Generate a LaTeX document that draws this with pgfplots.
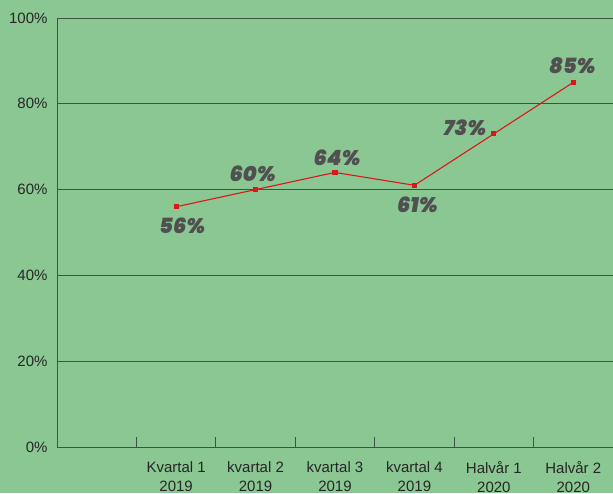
\documentclass[border=0pt]{standalone}
\usepackage{fontspec}
\setmainfont{Liberation Sans}
\newfontfamily\lblfont{Poppins}[BoldItalicFont={Poppins Black Italic}]
\usepackage{pgfplots}
\pgfplotsset{compat=1.18}
\usepackage{pgfplotstable}
\definecolor{bgc}{HTML}{8BC793}
\definecolor{gridc}{HTML}{3F5443}
\definecolor{linec}{HTML}{D7191C}
\definecolor{lblc}{HTML}{505050}

\pgfplotstableread{
x y dx dy
1 56 6 -19
2 60 -3 16
3 64 2 15
4 61 3 -19
5 73 -29 6
6 85 -1 17
}\share

\begin{document}
\begin{tikzpicture}[x=1pt,y=1pt]
\useasboundingbox (0,0) rectangle (613,493);
\fill[bgc] (0,0) rectangle (613,493);
\begin{axis}[
  at={(57pt,46pt)}, anchor=south west,
  scale only axis, width=556pt, height=429pt,
  xmin=-0.5, xmax=6.5, ymin=0, ymax=100,
  axis x line=bottom, axis y line=left,
  axis line style={gridc, line width=0.9pt, -},
  xtick={1,...,6},
  xticklabels={Kvartal 1\\2019, kvartal 2\\2019, kvartal 3\\2019, kvartal 4\\2019, Halvår 1\\2020, Halvår 2\\2020},
  x tick label style={align=center, font=\fontsize{15}{19}\selectfont, text=black!85, yshift=-11pt},
  major x tick style={draw=none},
  minor xtick={0.5,1.5,...,5.5},
  minor tick length=10pt,
  minor x tick style={gridc, line width=0.9pt},
  tick align=inside,
  xtick pos=bottom,
  ytick={0,20,...,100},
  yticklabel={\pgfmathprintnumber{\tick}\%},
  y tick label style={font=\fontsize{15}{17}\selectfont, text=black!85, xshift=-6pt},
  /pgf/number format/assume math mode=true,
  major y tick style={draw=none},
  ymajorgrids, grid style={gridc, line width=0.8pt},
  clip=false,
]
\addplot[linec, line width=1.1pt, mark=square*, mark size=2pt,
  mark options={fill=linec, draw=linec},
  point meta=y,
  visualization depends on={\thisrow{dx} \as \dx},
  visualization depends on={\thisrow{dy} \as \dy},
  nodes near coords={\lblfont\bfseries\itshape\pgfmathprintnumber{\pgfplotspointmeta}\%},
  nodes near coords style={anchor=center, xshift=\dx pt, yshift=\dy pt, text=lblc, font=\fontsize{21}{24}\selectfont},
] table[x=x, y=y] {\share};
\end{axis}
\end{tikzpicture}
\end{document}
